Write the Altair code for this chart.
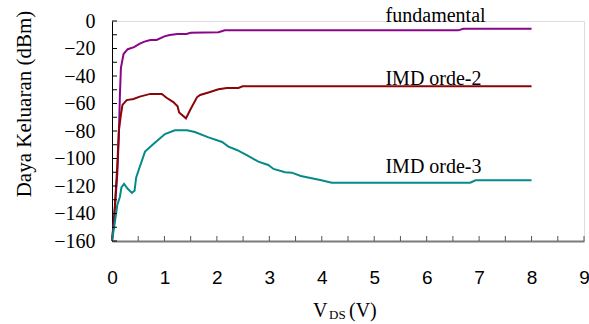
import altair as alt
import pandas as pd

# Output power versus drain-source voltage
fund_x = [0, 0.05, 0.1, 0.13, 0.15, 0.17, 0.22, 0.3, 0.42, 0.53, 0.62, 0.73, 0.85,
          1.0, 1.1, 1.25, 1.42, 1.5, 2.03, 2.15, 6.6, 6.7, 8.0]
fund_y = [-160, -138, -112, -84, -55, -34, -24, -20.5, -19, -16.5, -15, -13.8, -13.8,
          -11.2, -10.2, -9.5, -9.5, -8.5, -8.2, -6.8, -6.8, -5.6, -5.6]

imd2_x = [0, 0.04, 0.07, 0.1, 0.13, 0.17, 0.2, 0.28, 0.41, 0.53, 0.73, 0.95, 1.04,
          1.17, 1.25, 1.28, 1.41, 1.49, 1.62, 1.68, 1.84, 2.03, 2.19, 2.41, 2.49, 8.0]
imd2_y = [-160, -145, -125, -106, -80, -68, -61, -57.5, -56.7, -55, -53, -53, -55.8,
          -59, -62, -66.5, -70.8, -64.7, -55.5, -53.8, -52, -49.7, -48.7, -48.7, -47.5, -47.5]

imd3_x = [0, 0.06, 0.1, 0.15, 0.18, 0.23, 0.3, 0.38, 0.43, 0.46, 0.53, 0.63, 0.79,
          1.01, 1.2, 1.43, 1.58, 1.84, 2.1, 2.22, 2.38, 2.57, 2.79, 2.98, 3.08, 3.3,
          3.43, 3.6, 3.97, 4.19, 6.83, 6.93, 8.0]
imd3_y = [-160, -145, -134, -128, -121, -118.5, -122, -125, -123.5, -114, -106, -95, -89.5,
          -82.2, -79.5, -79.5, -80.7, -84.6, -88, -91.4, -93.8, -97.5, -102.3, -104.7, -107.6, -110,
          -110.3, -112.7, -115.6, -117.6, -117.6, -115.8, -115.8]

series_names = ["fundamental", "IMD orde-2", "IMD orde-3"]
series_colors = ["#8a058a", "#8a0606", "#058a8a"]

label_x = [6.17, 6.13, 6.13]
label_y = [-0.5, -46.5, -110.8]

x_ticks = [i * 0.5 for i in range(19)]
y_ticks = list(range(-160, 1, 10))
x_labels = list(range(0, 10))
y_labels = list(range(-160, 1, 20))

SERIF = "Liberation Serif"
SANS = "Liberation Sans"

rows = []
for name, xs, ys in zip(series_names, [fund_x, imd2_x, imd3_x], [fund_y, imd2_y, imd3_y]):
    for xv, yv in zip(xs, ys):
        rows.append({"series": name, "vds": xv, "power": yv})
df = pd.DataFrame(rows)

labels_df = pd.DataFrame({"text": series_names, "x": label_x, "y": label_y})

W, H = 472, 220
xscale = alt.Scale(domain=[0, 9], nice=False)
yscale = alt.Scale(domain=[-160, 0], nice=False)

# One axis definition per direction, shared by every layer so the merge keeps it
x_axis = alt.Axis(values=x_labels, title=None, grid=False, ticks=False, tickSize=0,
                  labelFont=SANS, labelFontSize=19, labelColor="black",
                  labelPadding=27, labelFlush=False, labelOverlap=False,
                  domainColor="#7a7a7a", domainWidth=2)
y_axis = alt.Axis(values=y_labels, title=None, grid=False, ticks=False, tickSize=0,
                  labelFont=SERIF, labelFontSize=20, labelColor="black",
                  labelPadding=17, labelFlush=False, labelOverlap=False,
                  domainColor="black", domainWidth=1)

lines = alt.Chart(df).mark_line(strokeWidth=2).encode(
    x=alt.X("vds:Q", scale=xscale, axis=x_axis),
    y=alt.Y("power:Q", scale=yscale, axis=y_axis),
    color=alt.Color("series:N", scale=alt.Scale(domain=series_names, range=series_colors),
                    legend=None),
    detail="series:N",
)

xtick_marks = alt.Chart(pd.DataFrame({"t": x_ticks})).mark_rule(color="#555555", strokeWidth=1).encode(
    x=alt.X("t:Q", scale=xscale, axis=x_axis),
    y=alt.value(H),
    y2=alt.value(H - 5),
)

ytick_marks = alt.Chart(pd.DataFrame({"t": y_ticks})).mark_rule(color="black", strokeWidth=1).encode(
    y=alt.Y("t:Q", scale=yscale, axis=y_axis),
    x=alt.value(0),
    x2=alt.value(5),
)

series_text = alt.Chart(labels_df).mark_text(
    font=SERIF, fontSize=20, align="center", baseline="alphabetic", color="black"
).encode(
    x=alt.X("x:Q", scale=xscale, axis=x_axis),
    y=alt.Y("y:Q", scale=yscale, axis=y_axis),
    text="text:N",
)

one = pd.DataFrame({"k": [0]})

y_title = alt.Chart(one).mark_text(
    text="Daya Keluaran (dBm)", font=SERIF, fontSize=21, angle=270,
    align="center", baseline="alphabetic", color="black"
).encode(x=alt.value(-81), y=alt.value(83))

x_title_v = alt.Chart(one).mark_text(
    text="V", font=SERIF, fontSize=20, align="left", baseline="alphabetic", color="black"
).encode(x=alt.value(201), y=alt.value(296))

x_title_sub = alt.Chart(one).mark_text(
    text="DS", font=SERIF, fontSize=13, align="left", baseline="alphabetic", color="black"
).encode(x=alt.value(217), y=alt.value(298))

x_title_unit = alt.Chart(one).mark_text(
    text="(V)", font=SERIF, fontSize=20, align="left", baseline="alphabetic", color="black"
).encode(x=alt.value(237), y=alt.value(296))

chart = alt.layer(
    lines, xtick_marks, ytick_marks, series_text, y_title, x_title_v, x_title_sub, x_title_unit
).properties(
    width=W, height=H,
    autosize=alt.AutoSizeParams(type="none"),
    padding={"left": 112, "top": 21, "right": 5, "bottom": 83},
).configure_view(stroke=None).configure(background="white")

chart.save("out.html", embed_options={"renderer": "svg", "actions": False})
